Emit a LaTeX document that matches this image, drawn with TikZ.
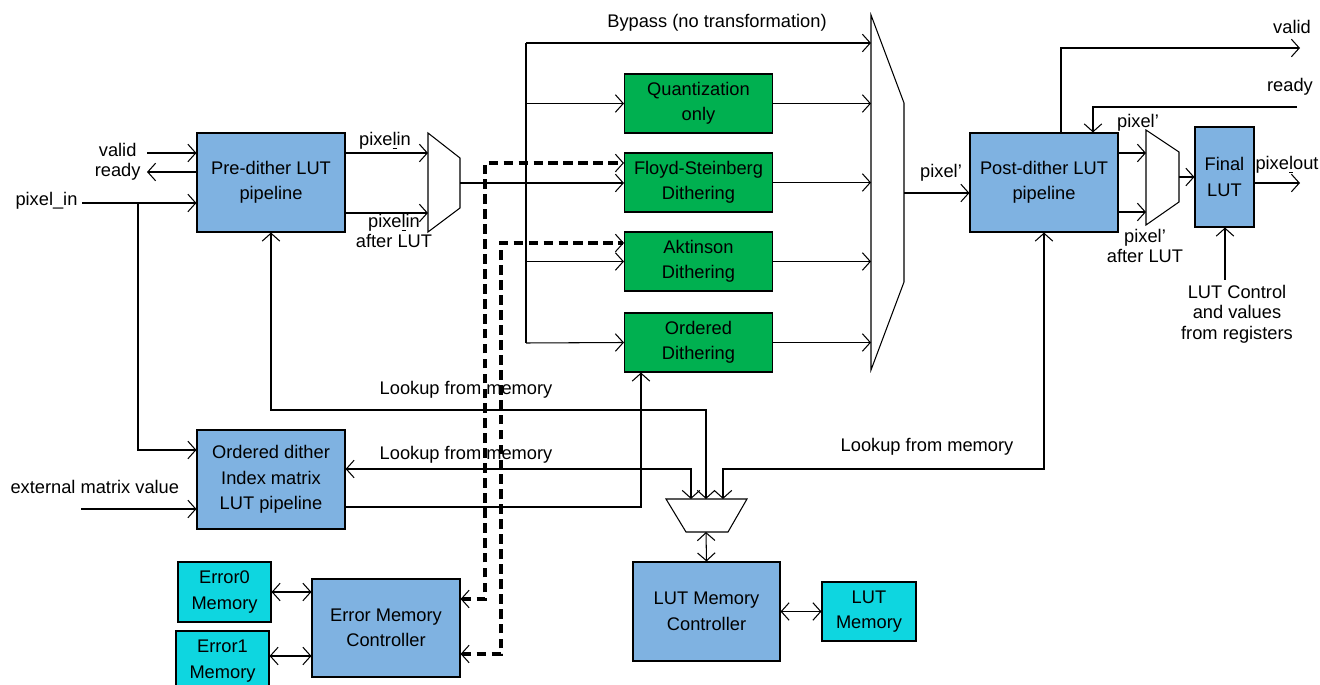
\documentclass[tikz,border=0pt]{standalone}
\usepackage{fontspec}
\setmainfont{Liberation Sans}
\usetikzlibrary{arrows.meta,positioning}

\definecolor{lutblue}{RGB}{127,178,225}
\definecolor{dithgreen}{RGB}{0,176,80}
\definecolor{memcyan}{RGB}{14,214,224}

\begin{document}
\begin{tikzpicture}[
    x=0.02cm, y=-0.02cm,
    >={Straight Barb[length=4.5pt,width=10pt,line width=0.6pt]},
    line width=0.6pt,
    sz/.style 2 args={minimum width=#1*0.02cm, minimum height=#2*0.02cm},
    blk/.style={draw, fill=lutblue, align=center, inner sep=0pt,
        font=\fontsize{10.4}{14.5}\selectfont},
    grn/.style={blk, fill=dithgreen},
    mem/.style={blk, fill=memcyan},
    lbl/.style={inner sep=0pt, align=center, font=\fontsize{10.4}{11.5}\selectfont},
    sig/.style={->},
    bsig/.style={<->},
    dsig/.style={<->, dash pattern=on 5.5pt off 3pt}
]
\useasboundingbox (0,0) rectangle (1320,685);

% Blue: LUT pipelines
\node[blk, sz={148}{99}] (pre)  at (271,182.5) {Pre-dither LUT\\pipeline};
\node[blk, sz={148}{99}] (ord)  at (271,479.5) {Ordered dither\\Index matrix\\LUT pipeline};
\node[blk, sz={148}{99}] (post) at (1044,182.5) {Post-dither LUT\\pipeline};
\node[blk, sz={59}{100}] (fin)  at (1224.5,177) {Final\\LUT};

% Green: dithering modes
\node[grn, sz={148}{59}] (quant) at (698.5,103.5) {Quantization\\only};
\node[grn, sz={148}{59}] (floyd) at (698.5,182.5) {Floyd-Steinberg\\Dithering};
\node[grn, sz={148}{59}] (akt)   at (698.5,261.5) {Aktinson\\Dithering};
\node[grn, sz={148}{59}] (odith) at (698.5,342.5) {Ordered\\Dithering};

% Memories and controllers
\node[blk, sz={147}{99}] (lutc) at (706.5,611.5) {LUT Memory\\Controller};
\node[mem, sz={94}{59}]  (lutm) at (869,611.5) {LUT\\Memory};
\node[blk, sz={148}{98}] (emc)  at (386,628) {Error Memory\\Controller};
\node[mem, sz={93}{60}]  (e0)   at (224.5,592) {Error0\\Memory};
\node[mem, sz={93}{60}]  (e1)   at (222.5,661) {Error1\\Memory};

% Muxes
\coordinate (m1a) at (428,133);
\coordinate (m1o) at (460,183);
\draw (m1a) -- (460,158) -- (460,208) -- (428,232) -- cycle;
\coordinate (m2a) at (871,15);
\coordinate (m2o) at (904,193);
\draw (m2a) -- (904,103) -- (904,282) -- (871,370) -- cycle;
\coordinate (m3a) at (1146,130);
\coordinate (m3o) at (1179,177);
\draw (m3a) -- (1179,152) -- (1179,202) -- (1146,225) -- cycle;
\coordinate (m4t) at (706,499);
\coordinate (m4b) at (706,532);
\draw (666,499) -- (747,499) -- (728,532) -- (686,532) -- cycle;

% Inputs
\coordinate (valid) at (147,153);
\coordinate (rdy)   at (147,172);
\coordinate (pin)   at (82,203);
\coordinate (pinb)  at (138,450);
\coordinate (ext)   at (81,509);
\draw[sig] (valid) -- (valid -| pre.west);
\draw[sig] (rdy -| pre.west) -- (rdy);
\draw[sig] (pin) -- (pin -| pre.west);
\draw[sig] (pinb |- pin) -- (pinb) -- (pinb -| ord.west);
\draw[sig] (ext) -- (ext -| ord.west);
\node[lbl, anchor=east] (tvalid) at (137,150) {valid};
\node[lbl, anchor=east] (tready) at (141,172) {ready};
\node[lbl, anchor=east] (tpin)   at (78,201) {pixel\_in};
\node[lbl, anchor=west] (text)   at (10,487) {external matrix value};

% Pre-dither to mux
\draw[sig] (pre.east |- 0,153) -- (m1a |- 0,153);
\draw[sig] (pre.east |- 0,213) -- (m1a |- 0,213);
\node[lbl] (tpx1) at (385,141) {pixe\underline{l}in};
\node[lbl] (tpx2) at (394,231) {pixe\underline{l}in\\after LUT};

% Bus to dithering modes
\coordinate (bt) at (526,43);
\coordinate (bb) at (526,343);
\draw (bt) -- (bb);
\draw[sig] (m1o) -- (m1o -| floyd.west);
\draw[sig] (bt) -- (bt -| m2a);
\draw[sig] (bt |- quant) -- (quant.west);
\draw[sig] (bt |- akt) -- (akt.west);
\draw[sig] (bb) -- (odith.west);
\foreach \m in {quant,floyd,akt,odith}
    \draw[sig] (\m.east) -- (\m.east -| m2a);
\node[lbl] (tbyp) at (717,23) {Bypass (no transformation)};

% Post-dither side
\draw[sig] (m2o) -- (m2o -| post.west);
\node[lbl] (tpx3) at (941,173) {pixel’};
\draw[sig] (post.east |- 0,153) -- (m3a |- 0,153);
\draw[sig] (post.east |- 0,212) -- (m3a |- 0,212);
\node[lbl] (tpx4) at (1138,123) {pixel’};
\node[lbl] (tpx5) at (1145,246) {pixel’\\after LUT};
\draw[sig] (m3o) -- (fin.west);
\coordinate (pout) at (1300,183);
\draw[sig] (fin.east |- pout) -- (pout);
\node[lbl] (tpout) at (1287,165) {pixe\underline{l}out};
\coordinate (lutctl) at (1225,280);
\draw[sig] (lutctl) -- (lutctl |- fin.south);
\node[lbl, anchor=north] (tctl) at (1237,285) {LUT Control\\and values\\from registers};

% Handshake out
\coordinate (vo)   at (1061,48);
\coordinate (vout) at (1300,48);
\draw[sig] (vo |- post.north) -- (vo) -- (vout);
\node[lbl] (tvout) at (1292,27) {valid};
\coordinate (rin) at (1297,107);
\coordinate (rk)  at (1093,107);
\draw[sig] (rin) -- (rk) -- (rk |- post.north);
\node[lbl] (trin) at (1290,87) {ready};

% Lookups from memory
\coordinate (lk1) at (706,410);
\coordinate (lk2) at (691,469);
\coordinate (lk3) at (723,469);
\draw[bsig] (pre.south) |- (lk1) -- (m4t);
\draw[bsig] (lk2 -| ord.east) -- (lk2) -- (lk2 |- m4t);
\draw[bsig] (post.south) |- (lk3) -- (lk3 |- m4t);
\node[lbl] (tlk1) at (466,390) {Lookup from memory};
\node[lbl] (tlk2) at (466,455) {Lookup from memory};
\node[lbl] (tlk3) at (927,447) {Lookup from memory};
\coordinate (od) at (641,507);
\draw[sig] (od -| ord.east) -- (od) -- (od |- odith.south);

% LUT memory
\draw[bsig] (m4b) -- (lutc.north);
\draw[bsig] (lutc.east) -- (lutm.west);

% Error memory
\coordinate (eb) at (290,656);
\draw[bsig] (e0.east) -- (e0.east -| emc.west);
\draw[bsig] (eb -| e1.east) -- (eb -| emc.west);
\coordinate (d1)  at (485,599);
\coordinate (d1t) at (485,163);
\coordinate (d2)  at (501,654);
\coordinate (d2t) at (501,243);
\draw[dsig, line width=1.8pt] (d1 -| emc.east) -- (d1) -- (d1t) -- (d1t -| floyd.west);
\draw[dsig, line width=1.8pt] (d2 -| emc.east) -- (d2) -- (d2t) -- (d2t -| akt.west);

\end{tikzpicture}
\end{document}
